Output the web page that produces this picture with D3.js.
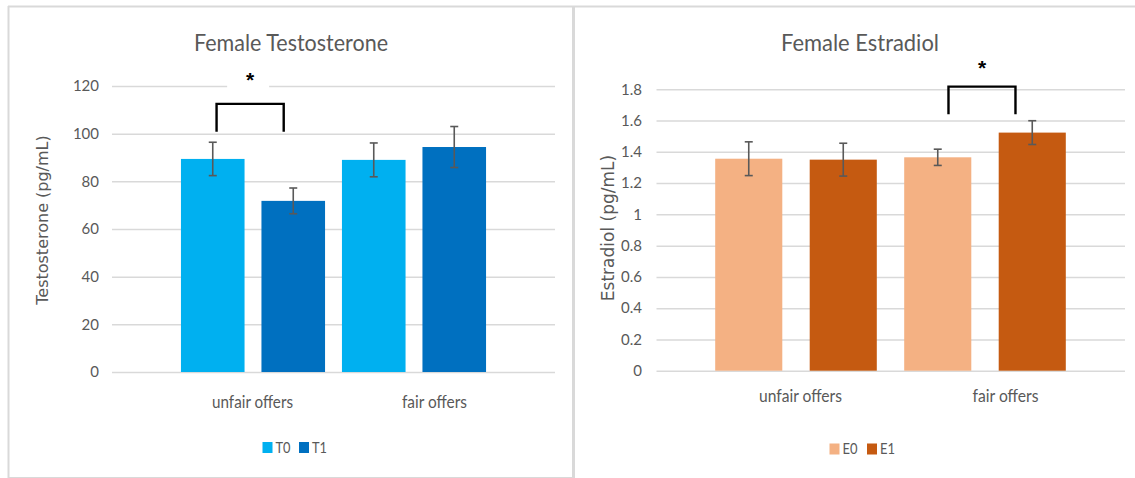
<!DOCTYPE html>
<html lang="en">
  <head>
    <meta charset="UTF-8" />
    <title>Female hormones</title>
    <style>
      body { margin: 0; background: #fff; }
      text { font-family: Lato, "Open Sans", sans-serif; fill: #595959; }
    </style>
  </head>
  <body>
    <svg id="container" width="1135" height="478"></svg>
  </body>
  <script src="https://cdn.jsdelivr.net/npm/d3@7"></script>
  <script>
    // data
    const categories = ["unfair offers", "fair offers"];

    const testoSeries = ["T0", "T1"];
    const t0Means = [89.4, 89.0];
    const t0Errors = [7.0, 7.1];
    const t1Means = [71.8, 94.4];
    const t1Errors = [5.4, 8.6];
    const testoTicks = [0, 20, 40, 60, 80, 100, 120];

    const estraSeries = ["E0", "E1"];
    const e0Means = [1.356, 1.365];
    const e0Errors = [0.108, 0.052];
    const e1Means = [1.35, 1.523];
    const e1Errors = [0.105, 0.076];
    const estraTicks = [0, 0.2, 0.4, 0.6, 0.8, 1, 1.2, 1.4, 1.6, 1.8];

    let svg = d3.select("#container");

    // the source picture is squeezed sideways: narrow a text to a given width
    function fit(sel, width) {
      sel.each(function (d, i) {
        let w = typeof width === "function" ? width(d, i) : width;
        let natural = this.getComputedTextLength();
        if (w < natural) d3.select(this).attr("textLength", w).attr("lengthAdjust", "spacingAndGlyphs");
      });
    }

    // panel frames
    let frame = svg.append("g").attr("stroke", "#d9d9d9").attr("fill", "none");
    frame.append("line").attr("x1", 8).attr("x2", 1135).attr("y1", 6.5).attr("y2", 6.5).attr("stroke-width", 2);
    frame.append("line").attr("x1", 8.5).attr("x2", 8.5).attr("y1", 6).attr("y2", 478).attr("stroke-width", 2);
    frame.append("line").attr("x1", 573.5).attr("x2", 573.5).attr("y1", 6).attr("y2", 478).attr("stroke-width", 3);
    frame.append("line").attr("x1", 8).attr("x2", 573).attr("y1", 477.5).attr("y2", 477.5).attr("stroke-width", 1);

    function drawPanel(p) {
      let g = svg.append("g");

      let y = d3.scaleLinear().domain([0, d3.max(p.ticks)]).range([p.yBottom, p.yTop]);
      let x0 = d3.scaleBand().domain(categories).range(p.barRange);
      let x1 = d3.scaleBand().domain(p.series).range([0, x0.bandwidth()])
        .paddingInner(p.pad).paddingOuter(p.pad / 2);
      let xLabel = d3.scalePoint().domain(categories).range(p.labelRange);

      // gridlines + y tick labels
      let yAxis = d3.axisLeft(y).tickValues(p.ticks).tickFormat(d3.format("~g"))
        .tickSize(-(p.gridRight - p.gridLeft)).tickPadding(p.tickPad);
      g.append("g").attr("transform", `translate(${p.gridLeft},0)`).call(yAxis)
        .attr("font-family", null)
        .call((a) => a.select(".domain").remove())
        .call((a) => a.selectAll("line").attr("stroke", "#d9d9d9").attr("stroke-width", 1.5))
        .call((a) => a.selectAll("text").attr("font-size", 15));

      // category labels
      let xAxis = d3.axisBottom(xLabel).tickSize(0);
      g.append("g").attr("transform", `translate(0,${p.labelY})`).call(xAxis)
        .attr("font-family", null)
        .call((a) => a.select(".domain").remove())
        .call((a) => a.selectAll("text").attr("y", 0).attr("dy", null).attr("font-size", 17.5)
          .call(fit, (d, i) => p.labelWidths[i]));

      // bars
      let rows = categories.flatMap((c, i) =>
        p.series.map((s, j) => ({ cat: c, s: s, v: p.means[j][i], e: p.errors[j][i], color: p.colors[j] }))
      );
      g.selectAll("rect.bar").data(rows).join("rect").attr("class", "bar")
        .attr("x", (d) => x0(d.cat) + x1(d.s))
        .attr("y", (d) => y(d.v))
        .attr("width", x1.bandwidth())
        .attr("height", (d) => y(0) - y(d.v))
        .attr("fill", (d) => d.color);

      // error bars
      let err = g.selectAll("g.err").data(rows).join("g").attr("class", "err")
        .attr("transform", (d) => `translate(${x0(d.cat) + x1(d.s) + x1.bandwidth() / 2},0)`)
        .attr("stroke", "#595959").attr("stroke-width", 1.6);
      err.append("line").attr("y1", (d) => y(d.v + d.e)).attr("y2", (d) => y(d.v - d.e));
      err.append("line").attr("x1", -4).attr("x2", 4).attr("y1", (d) => y(d.v + d.e)).attr("y2", (d) => y(d.v + d.e));
      err.append("line").attr("x1", -4).attr("x2", 4).attr("y1", (d) => y(d.v - d.e)).attr("y2", (d) => y(d.v - d.e));

      // significance bracket
      let s = p.sig;
      let bx1 = x0(s.cat) + x1(p.series[0]) + x1.bandwidth() * s.left;
      let bx2 = x0(s.cat) + x1(p.series[1]) + x1.bandwidth() * s.right;
      let sx = (bx1 + bx2) / 2;
      if (s.mask) {
        g.append("rect").attr("x", sx - 23).attr("y", y(s.star) - 13).attr("width", 42).attr("height", 26).attr("fill", "#fff");
      }
      g.append("path")
        .attr("d", `M${bx1},${y(s.leg)}V${y(s.top)}H${bx2}V${y(s.leg)}`)
        .attr("fill", "none").attr("stroke", "#000").attr("stroke-width", 2.4);
      g.append("text").attr("x", sx).attr("y", y(s.star) + 12).attr("text-anchor", "middle")
        .style("font-family", "'Liberation Sans', sans-serif").style("font-weight", "bold")
        .style("font-size", "21px").style("fill", "#000").text("*");

      // title
      g.append("text").attr("x", p.titleX).attr("y", 51).attr("text-anchor", "middle")
        .attr("font-size", 24).text(p.title).call(fit, p.titleWidth);

      // y axis title
      g.append("text")
        .attr("transform", `translate(${p.axisTitleX},${p.axisTitleY}) rotate(-90)`)
        .attr("text-anchor", "middle").attr("dominant-baseline", "central")
        .style("font-family", "'DejaVu Sans', sans-serif").style("font-size", p.axisTitleSize + "px")
        .text(p.axisTitle);

      // legend
      let leg = g.selectAll("g.leg").data(p.series).join("g").attr("class", "leg")
        .attr("transform", (d, i) => `translate(${p.legendX + i * p.legendStep},${p.legendY})`);
      leg.append("rect").attr("x", 0).attr("y", -10.5).attr("width", 10).attr("height", 11)
        .attr("fill", (d, i) => p.colors[i]);
      leg.append("text").attr("x", 13).attr("y", 0).attr("font-size", 15.5).text((d) => d).call(fit, 15);
    }

    drawPanel({
      title: "Female Testosterone", titleX: 291, titleWidth: 194,
      axisTitle: "Testosterone (pg/mL)", axisTitleX: 42, axisTitleY: 220, axisTitleSize: 16,
      series: testoSeries, means: [t0Means, t1Means], errors: [t0Errors, t1Errors],
      colors: ["#00B0F0", "#0070C0"],
      ticks: testoTicks, yBottom: 372, yTop: 86, gridLeft: 112, gridRight: 555, tickPad: 13,
      barRange: [172.5, 494.5], pad: 0.21, labelRange: [252, 434], labelWidths: [81, 65], labelY: 408,
      legendX: 262.5, legendY: 452.5, legendStep: 36.5,
      sig: { cat: "unfair offers", left: 0.56, right: 0.35, top: 112.5, leg: 100.8, star: 124.6, mask: true },
    });

    drawPanel({
      title: "Female Estradiol", titleX: 860, titleWidth: 158,
      axisTitle: "Estradiol (pg/mL)", axisTitleX: 608, axisTitleY: 228, axisTitleSize: 17,
      series: estraSeries, means: [e0Means, e1Means], errors: [e0Errors, e1Errors],
      colors: ["#F4B183", "#C55A11"],
      ticks: estraTicks, yBottom: 370.7, yTop: 89.3, gridLeft: 656.5, gridRight: 1125, tickPad: 14.5,
      barRange: [701.5, 1079.5], pad: 0.29, labelRange: [800, 1005], labelWidths: [83, 66], labelY: 401.5,
      legendX: 829.5, legendY: 454, legendStep: 37.5,
      sig: { cat: "fair offers", left: 0.66, right: 0.25, top: 1.817, leg: 1.64, star: 1.97, mask: false },
    });
  </script>
</html>
